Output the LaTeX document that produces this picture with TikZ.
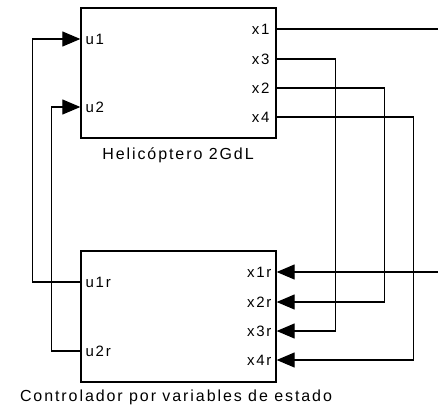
\documentclass[tikz,border=0pt]{standalone}
\usepackage{fontspec}
\setmainfont{Liberation Sans}[LetterSpace=12]
\usetikzlibrary{arrows.meta}

\tikzset{
  block/.style={draw,line width=1.3pt,inner sep=0pt,minimum width=195pt},
  port/.style={inner sep=1pt,font=\fontsize{15}{17}\selectfont},
  caption/.style={inner sep=0pt,font=\fontsize{16}{19}\selectfont},
  feed/.style={-{Triangle[length=18pt,width=15pt]}}
}

\begin{document}
\begin{tikzpicture}[x=1pt,y=-1pt,line width=1.1pt]
\useasboundingbox (0,0) rectangle (438,410);

% 1
\node[block,minimum height=130pt] (BlockHeli) at (178.5,73) {};
\node[caption] (LabelHeli) at (178,155) {Helicóptero 2GdL};

\node[port,anchor=west] (PortU1) at (84,39) {u1};
\node[port,anchor=west] (PortU2) at (84,107) {u2};
\node[port,anchor=east] (PortX1) at (271,29) {x1};
\node[port,anchor=east] (PortX3) at (271,59) {x3};
\node[port,anchor=east] (PortX2) at (271,88) {x2};
\node[port,anchor=east] (PortX4) at (271,117) {x4};

% 2
\node[block,minimum height=131pt] (BlockCtrl) at (178.5,316.5) {};
\node[caption] (LabelCtrl) at (176,397) {Controlador por variables de estado};

\node[port,anchor=west] (PortU1r) at (84,282) {u1r};
\node[port,anchor=west] (PortU2r) at (84,351) {u2r};
\node[port,anchor=east] (PortX1r) at (273,272) {x1r};
\node[port,anchor=east] (PortX2r) at (273,302) {x2r};
\node[port,anchor=east] (PortX3r) at (273,331) {x3r};
\node[port,anchor=east] (PortX4r) at (273,360) {x4r};

% feedback
\draw[feed] (BlockCtrl.west |- PortU1r) -- ++(-48,0) |- (BlockHeli.west |- PortU1);
\draw[feed] (BlockCtrl.west |- PortU2r) -- ++(-29,0) |- (BlockHeli.west |- PortU2);

\draw[feed] (BlockHeli.east |- PortX1) -- ++(169,0) |- (BlockCtrl.east |- PortX1r);
\draw[feed] (BlockHeli.east |- PortX3) -- ++(59,0) |- (BlockCtrl.east |- PortX3r);
\draw[feed] (BlockHeli.east |- PortX2) -- ++(108,0) |- (BlockCtrl.east |- PortX2r);
\draw[feed] (BlockHeli.east |- PortX4) -- ++(137,0) |- (BlockCtrl.east |- PortX4r);

\end{tikzpicture}
\end{document}
